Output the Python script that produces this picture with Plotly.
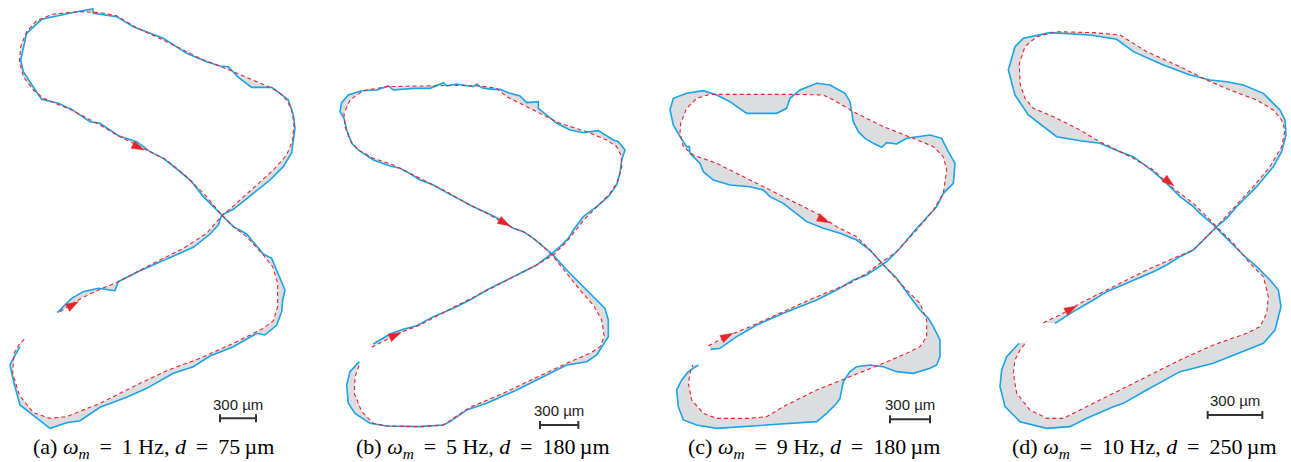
import plotly.graph_objects as go

# ---------------- data (digitised trajectories, panel-local units) ----------------
# reference trajectory (red dashed) and measured trajectory (blue) per panel
ref_a = [(180,935),(240,897),(300,868),(355,845),(450,795),(550,745),(620,700),(665,648),(700,618),(760,565),
         (820,510),(860,465),(878,420),(882,370),(875,330),(860,300),(835,275),(800,258),(700,215),(600,175),
         (500,125),(400,78),(350,47),(300,38),(240,35),(160,42),(110,62),(80,95),(62,140),(58,185),(70,230),
         (100,270),(130,295),(215,330),(300,375),(350,405),(430,445),(500,480),(560,530),(620,590),(665,645),
         (700,680),(740,710),(790,765),(818,800),(833,850),(833,920),(820,962),(790,985),(700,1030),(600,1075),
         (500,1112),(400,1160),(300,1210),(200,1250),(150,1255),(100,1238),(58,1185),(38,1120),(42,1060),
         (58,1032),(75,1015)]
meas_a = [(172,938),(215,895),(250,875),(295,865),(345,872),(355,845),(420,812),(500,777),(580,742),(630,702),
          (655,675),(665,645),(700,628),(760,580),(810,540),(850,500),(875,458),(880,420),(885,385),(880,345),
          (865,300),(840,280),(815,262),(755,262),(715,232),(685,200),(660,198),(620,185),(560,160),(490,115),
          (400,80),(350,50),(280,40),(278,27),(230,35),(125,58),(80,100),(62,180),(70,215),(98,258),(125,298),
          (175,310),(215,328),(270,365),(300,370),(355,407),(410,425),(450,455),(490,475),(540,515),(575,545),
          (610,590),(650,630),(680,660),(700,680),(740,702),(790,762),(815,775),(830,810),(855,870),(848,900),
          (845,935),(830,975),(795,1005),(770,1000),(700,1040),(630,1068),(580,1100),(520,1120),(440,1165),
          (380,1192),(300,1222),(240,1262),(200,1268),(150,1285),(60,1215),(42,1150),(30,1095),(40,1075),(60,1040)]

ref_b = [(155,862),(240,818),(300,795),(400,742),(500,692),(600,642),(650,615),(700,585),(740,545),(790,482),
         (830,440),(870,400),(890,370),(905,322),(905,290),(890,260),(860,240),(800,215),(720,190),(640,150),
         (560,110),(530,85),(480,78),(400,76),(300,78),(200,80),(130,92),(90,120),(72,160),(75,200),(90,240),
         (115,270),(160,295),(220,315),(300,355),(380,395),(440,430),(510,465),(570,500),(620,520),(660,550),
         (700,590),(740,640),(780,690),(820,735),(845,780),(853,830),(840,860),(810,880),(740,910),(650,952),
         (550,1000),(450,1042),(370,1095),(300,1100),(200,1098),(160,1090),(125,1055),(103,1000),(105,950),(118,915)]
meas_b = [(160,852),(210,822),(250,808),(290,797),(340,770),(400,745),(450,720),(500,690),(550,665),(600,640),
          (650,615),(690,585),(720,560),(745,535),(760,510),(790,470),(830,440),(865,410),(890,375),(900,340),
          (905,300),(915,270),(895,245),(880,240),(835,212),(790,218),(750,210),(710,190),(680,165),(655,145),
          (655,125),(620,128),(600,108),(570,100),(540,88),(520,88),(490,85),(480,80),(470,72),(460,80),(410,72),
          (380,78),(370,68),(330,85),(280,85),(220,90),(205,78),(170,90),(125,92),(85,105),(65,128),(60,155),
          (72,175),(80,210),(95,250),(115,270),(160,300),(210,318),(240,325),(260,335),(300,360),(340,375),
          (380,398),(420,420),(460,440),(500,458),(540,478),(580,505),(610,515),(640,535),(670,560),(700,585),
          (740,630),(800,690),(830,720),(855,745),(865,780),(865,830),(830,885),(800,905),(740,915),(690,940),
          (590,990),(500,1030),(440,1050),(390,1085),(370,1095),(300,1100),(200,1098),(150,1090),(105,1060),
          (85,1030),(80,975),(90,935),(115,910),(118,905)]

ref_c = [(175,827),(240,795),(300,770),(400,725),(500,680),(600,640),(650,610),(690,580),(740,545),(800,480),
         (850,420),(880,370),(890,300),(880,260),(850,230),(790,205),(700,170),(610,125),(560,95),(520,75),
         (430,73),(300,73),(180,73),(140,85),(110,115),(92,160),(90,190),(100,230),(130,255),(200,280),(300,330),
         (400,380),(500,430),(560,470),(620,500),(660,540),(700,585),(760,650),(810,700),(830,750),(830,800),
         (810,830),(770,850),(700,880),(600,920),(500,960),(400,1010),(350,1040),(300,1045),(200,1045),(160,1030),
         (125,990),(115,940),(120,910),(128,885)]
meas_c = [(182,838),(210,835),(260,800),(320,765),(400,730),(500,690),(560,660),(610,630),(650,615),(690,590),
          (710,575),(750,535),(800,475),(860,410),(880,370),(910,340),(915,280),(895,245),(875,205),(840,195),
          (810,200),(770,205),(740,222),(710,218),(695,232),(670,220),(645,205),(625,185),(610,155),(605,125),
          (600,95),(585,70),(540,45),(500,40),(450,60),(420,85),(410,115),(380,130),(290,130),(240,95),(200,75),
          (160,62),(110,70),(70,85),(60,120),(70,165),(90,200),(110,230),(118,230),(120,250),(150,280),(160,305),
          (190,330),(240,345),(300,350),(340,360),(360,380),(400,400),(440,430),(470,455),(520,475),(570,490),
          (620,510),(660,540),(700,585),(740,625),(780,680),(810,720),(835,745),(850,770),(870,810),(870,860),
          (860,885),(840,895),(790,910),(740,905),(700,890),(660,885),(620,890),(600,905),(580,935),(570,985),
          (560,1000),(530,1030),(500,1055),(420,1060),(350,1065),(250,1070),(200,1075),(140,1065),(100,1050),
          (85,1010),(80,960),(95,930),(115,905),(145,885)]

ref_d = [(190,908),(240,885),(300,850),(400,800),(500,750),(580,715),(640,690),(700,630),(760,565),(820,500),
         (870,440),(905,380),(915,330),(905,300),(880,270),(830,240),(750,210),(680,180),(600,140),(500,95),
         (420,45),(340,38),(230,35),(170,50),(135,80),(118,130),(120,190),(135,235),(160,265),(220,290),(300,330),
         (350,360),(400,385),(460,415),(520,450),(580,505),(640,550),(680,590),(710,620),(760,670),(810,730),
         (850,770),(865,830),(860,880),(840,920),(800,940),(700,975),(600,1020),(500,1070),(400,1120),(300,1170),
         (250,1195),(200,1195),(150,1170),(110,1120),(100,1060),(105,1020),(120,990),(140,965)]
meas_d = [(225,910),(280,875),(340,840),(380,815),(450,785),(520,755),(560,735),(600,710),(640,690),(680,650),
          (710,620),(740,595),(770,560),(830,500),(880,440),(905,395),(918,345),(915,300),(900,270),(880,250),
          (850,220),(790,195),(740,185),(690,180),(630,165),(550,135),(460,95),(410,58),(330,45),(250,40),(210,38),
          (130,55),(105,80),(85,150),(105,225),(145,285),(185,315),(230,350),(300,362),(360,370),(420,395),
          (460,410),(520,455),(560,490),(600,530),(640,560),(660,580),(700,615),(740,655),(790,705),(830,740),
          (870,780),(895,810),(903,860),(885,930),(850,970),(700,1030),(600,1055),(500,1110),(430,1150),(400,1160),
          (320,1195),(270,1220),(200,1225),(120,1205),(75,1160),(60,1100),(65,1050),(80,1010),(117,970)]

# direction arrows: (previous point, arrow point) on the reference path
arrows_a = [((380,425),(432,450)), ((200,925),(235,905))]
arrows_b = [((520,470),(570,498)), ((200,838),(243,818))]
arrows_c = [((490,435),(538,458)), ((205,812),(248,790))]
arrows_d = [((540,465),(582,498)), ((245,882),(290,858))]

SP = "&#8201;"
captions = [
    "(a) <i>ω</i><sub><i>m</i></sub> " + SP + "= " + SP + "1 Hz, <i>d</i> " + SP + "= " + SP + "75" + SP + "µm",
    "(b) <i>ω</i><sub><i>m</i></sub> " + SP + "= " + SP + "5 Hz, <i>d</i> " + SP + "= " + SP + "180" + SP + "µm",
    "(c) <i>ω</i><sub><i>m</i></sub> " + SP + "= " + SP + "9 Hz, <i>d</i> " + SP + "= " + SP + "180" + SP + "µm",
    "(d) <i>ω</i><sub><i>m</i></sub> " + SP + "= " + SP + "10 Hz, <i>d</i> " + SP + "= " + SP + "250" + SP + "µm",
]
scale_label = "300 µm"
# length of 300 µm in panel units
scale_len = [108, 115, 120, 164]

# ---------------- layout ----------------
W, H = 1291, 462
K = 3  # panel units per pixel
frames = [dict(left=0, top=0, w=320), dict(left=320, top=60, w=330),
          dict(left=650, top=70, w=330), dict(left=980, top=20, w=311)]
bar_pos = [(660, 1255, 1212), (660, 1095, 1052), (720, 1048, 1004), (683, 1185, 1140)]
caption_x = [153, 483, 814, 1144]
caption_y = 448

BLUE = "#1AA3E6"
RED = "#E8242B"
GRAY = "#DCDDDF"
BAR = "#333333"

panels = [(ref_a, meas_a, arrows_a), (ref_b, meas_b, arrows_b),
          (ref_c, meas_c, arrows_c), (ref_d, meas_d, arrows_d)]

fig = go.Figure()
layout_axes = {}
annotations = []
for i, ((ref, meas, arrows), fr) in enumerate(zip(panels, frames)):
    n = "" if i == 0 else str(i + 1)
    xa, ya = "x" + n, "y" + n
    rx = [p[0] for p in ref]; ry = [p[1] for p in ref]
    mx = [p[0] for p in meas]; my = [p[1] for p in meas]
    # shaded deviation area
    fig.add_trace(go.Scatter(x=mx + rx[::-1], y=my + ry[::-1], fill="toself", mode="none",
                             fillcolor=GRAY, xaxis=xa, yaxis=ya, hoverinfo="skip", showlegend=False))
    fig.add_trace(go.Scatter(x=mx, y=my, mode="lines", line=dict(color=BLUE, width=1.6),
                             xaxis=xa, yaxis=ya, showlegend=False))
    fig.add_trace(go.Scatter(x=rx, y=ry, mode="lines", line=dict(color=RED, width=1.1, dash="4px,3px"),
                             xaxis=xa, yaxis=ya, showlegend=False))
    for (p0, p1) in arrows:
        fig.add_trace(go.Scatter(x=[p0[0], p1[0]], y=[p0[1], p1[1]], mode="markers",
                                 marker=dict(symbol="arrow", size=[0, 13], color=RED, angleref="previous",
                                             opacity=1, line=dict(width=0.5, color=RED)),
                                 xaxis=xa, yaxis=ya, showlegend=False, hoverinfo="skip"))
    # scale bar
    bx, by, ty = bar_pos[i]
    L = scale_len[i]
    t = 12
    fig.add_trace(go.Scatter(x=[bx, bx, None, bx, bx + L, None, bx + L, bx + L],
                             y=[by - t, by + t, None, by, by, None, by - t, by + t],
                             mode="lines", line=dict(color=BAR, width=2),
                             xaxis=xa, yaxis=ya, showlegend=False, hoverinfo="skip"))
    annotations.append(dict(x=bx + L / 2, y=ty, xref=xa, yref=ya, text=scale_label, showarrow=False,
                            font=dict(family="Liberation Sans, Arial", size=15, color="#222")))
    annotations.append(dict(x=caption_x[i] / W, y=1 - caption_y / H, xref="paper", yref="paper",
                            text=captions[i], showarrow=False, xanchor="center", yanchor="middle",
                            font=dict(family="Liberation Serif, Times New Roman", size=22, color="black")))
    ax = dict(visible=False, showgrid=False, zeroline=False, fixedrange=True)
    layout_axes["xaxis" + n] = dict(ax, domain=[fr["left"] / W, (fr["left"] + fr["w"]) / W],
                                    range=[0, K * fr["w"]])
    layout_axes["yaxis" + n] = dict(ax, domain=[0, (H - fr["top"]) / H],
                                    range=[K * (H - fr["top"]), 0])

fig.update_layout(width=W, height=H, margin=dict(l=0, r=0, t=0, b=0),
                  paper_bgcolor="white", plot_bgcolor="rgba(0,0,0,0)",
                  annotations=annotations, **layout_axes)
fig.write_html("out.html", config={"displayModeBar": False},
               post_script="document.body.style.margin='0';document.body.style.padding='0';")
